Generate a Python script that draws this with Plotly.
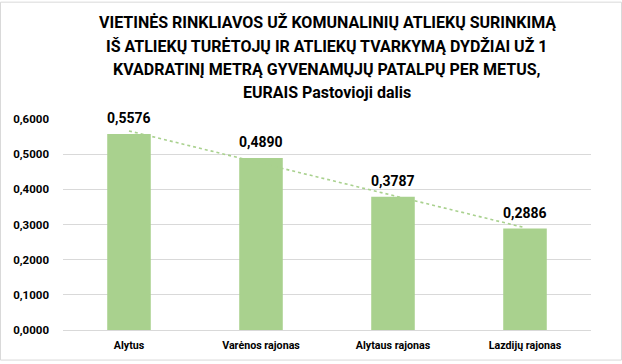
import numpy as np
import plotly.graph_objects as go

categories = ["Alytus", "Varėnos rajonas", "Alytaus rajonas", "Lazdijų rajonas"]
values = [0.5576, 0.4890, 0.3787, 0.2886]
tick_vals = [0.0, 0.1, 0.2, 0.3, 0.4, 0.5, 0.6]
title_lines = [
    "VIETINĖS RINKLIAVOS UŽ KOMUNALINIŲ ATLIEKŲ SURINKIMĄ",
    "IŠ ATLIEKŲ TURĖTOJŲ IR ATLIEKŲ TVARKYMĄ DYDŽIAI UŽ 1",
    "KVADRATINĮ METRĄ GYVENAMŲJŲ PATALPŲ PER METUS,",
    "EURAIS Pastovioji dalis",
]

xs = np.arange(1, len(values) + 1)
slope, intercept = np.polyfit(xs, values, 1)
trend = list(slope * xs + intercept)

font_family = "Roboto, 'Open Sans', Arial, sans-serif"
bar_color = "#a9d18e"

W, H = 622, 364
ML, MR, MT, MB = 63, 31, 119, 31
PW, PH = W - ML - MR, H - MT - MB

fig = go.Figure()
fig.add_trace(go.Bar(
    x=categories, y=values,
    marker=dict(color=bar_color, line=dict(width=0)),
    width=0.33,
    hoverinfo="skip",
))
fig.add_trace(go.Scatter(
    x=categories, y=trend, mode="lines",
    line=dict(color=bar_color, width=1.6, dash="dot"),
    hoverinfo="skip",
))

annotations = []
for c, v in zip(categories, values):
    annotations.append(dict(
        x=c, y=v, xref="x", yref="y", text=f"<b>{v:.4f}".replace(".", ",") + "</b>",
        showarrow=False, yanchor="bottom", yshift=6,
        font=dict(family=font_family, size=14, color="#000000"),
    ))
title_y_px = [21, 45, 69, 92]
for t, ypx in zip(title_lines, title_y_px):
    annotations.append(dict(
        x=0.5, xref="paper", y=(H - MB - ypx) / PH, yref="paper",
        text=f"<b>{t}</b>", showarrow=False, xanchor="center", yanchor="middle",
        font=dict(family=font_family, size=16, color="#000000"),
    ))

fig.update_layout(
    width=W, height=H,
    paper_bgcolor="white", plot_bgcolor="white",
    showlegend=False,
    separators=", ",
    margin=dict(l=ML, r=MR, t=MT, b=MB),
    bargap=0.67,
    annotations=annotations,
    xaxis=dict(
        showgrid=False, showline=True, linecolor="#d9d9d9", linewidth=1,
        ticks="", tickfont=dict(family=font_family, size=10.7, color="#000000", weight="bold"),
        ticklabelstandoff=5,
        fixedrange=True,
    ),
    yaxis=dict(
        range=[0, 0.6], tickvals=tick_vals, tickformat=".4f",
        showgrid=True, gridcolor="#d9d9d9", gridwidth=1,
        zeroline=False, showline=False, ticks="",
        tickfont=dict(family=font_family, size=11.5, color="#000000", weight="bold"),
        ticklabelstandoff=13,
        fixedrange=True,
    ),
    shapes=[dict(type="rect", xref="paper", yref="paper",
                 x0=(-ML + 0.5) / PW, x1=1 + (MR - 0.5) / PW,
                 y0=(-MB + 0.5) / PH, y1=1 + (MT - 0.5) / PH,
                 line=dict(color="#d9d9d9", width=1))],
)

fig.write_html("out.html", config={"displayModeBar": False},
               post_script="document.body.style.margin='0';document.body.style.overflow='hidden';")
